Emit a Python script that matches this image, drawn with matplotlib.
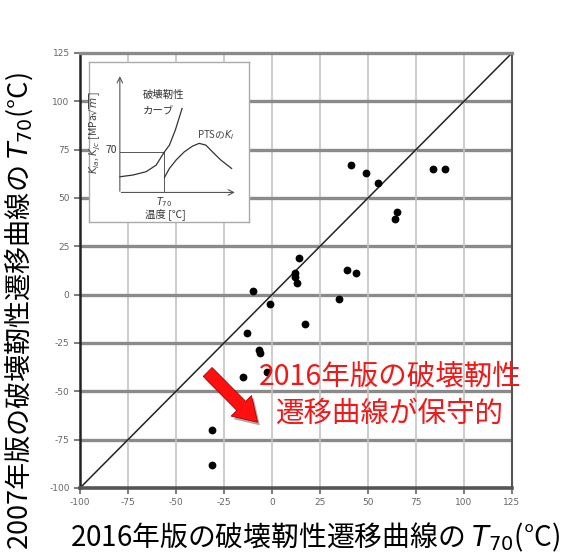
import matplotlib
matplotlib.use("Agg")
import matplotlib.pyplot as plt
from matplotlib.patches import FancyArrow

plt.rcParams['font.family'] = ['Noto Sans CJK JP', 'DejaVu Sans']
plt.rcParams['mathtext.fontset'] = 'dejavusans'

# T70 (°C): 2016 edition on x, 2007 edition on y
t70_2016 = [41, 49, 55, 84, 90, 65, 64, 14, 12, 12, 13, 39, 44, 35,
            -10, -1, 17, -13, -7, -6.5, -2.5, -15, -31, -31]
t70_2007 = [67, 63, 58, 65, 65, 43, 39, 19, 11, 9, 6, 13, 11, -2,
            2, -5, -15, -20, -28.5, -30, -40, -42.5, -70, -88]

ticks = [-100, -75, -50, -25, 0, 25, 50, 75, 100, 125]
lims = [-100, 125]

# schematic curves for the small explanatory inset
curve_T = [19.3, 27.5, 35.8, 42.0, 47.2, 50.3, 54.0, 58.2]
curve_K = [28.3, 29.4, 31.5, 35.6, 43.9, 48.1, 57.5, 71.0]
pts_T = [47.2, 50.3, 54.5, 59.6, 64.8, 68.9, 73.1, 77.2, 82.4, 89.2]
pts_K = [27.9, 33.5, 38.8, 43.9, 47.5, 49.2, 48.1, 43.9, 38.8, 33.5]
t70_pos = 47.2
k70_pos = 43.9

fig = plt.figure(figsize=(5.69, 5.57), dpi=100)
ax = fig.add_axes([0.1406, 0.1239, 0.7592, 0.781])

ax.set_xlim(lims)
ax.set_ylim(lims)
ax.set_xticks(ticks)
ax.set_yticks(ticks)
ax.set_xticklabels([str(t) for t in ticks], fontsize=6.5, color='#666666', family='DejaVu Sans')
ax.set_yticklabels([str(t) for t in ticks], fontsize=6.5, color='#666666', family='DejaVu Sans')
ax.tick_params(axis='both', length=4, width=1.2, color='#666666', pad=3.5)

for t in ticks[1:-1]:
    ax.axhline(t, color='#8a8a8a', lw=2.4, zorder=1)
    ax.axvline(t, color='#c4c4c4', lw=1.2, zorder=1)

ax.spines['left'].set_color('#222222')
ax.spines['left'].set_linewidth(1.8)
ax.spines['bottom'].set_color('#555555')
ax.spines['bottom'].set_linewidth(2.6)
ax.spines['top'].set_color('#8a8a8a')
ax.spines['top'].set_linewidth(2.4)
ax.spines['right'].set_color('#555555')
ax.spines['right'].set_linewidth(1.5)

ax.plot(lims, lims, color='#222222', lw=1.1, zorder=2)
ax.plot(t70_2016, t70_2007, 'o', color='black', ms=4.6, zorder=3)

# red arrow with a soft shadow
ax.add_patch(FancyArrow(-32.3, -41.6, 26, -26, width=6.5, head_width=15, head_length=12,
                        length_includes_head=True, fc='#555555', ec='none', alpha=0.5, zorder=4))
ax.add_patch(FancyArrow(-33.5, -40, 26, -26, width=6.5, head_width=15, head_length=12,
                        length_includes_head=True, fc='#ff1010', ec='#b00000', lw=0.6, zorder=5))

ax.text(61.5, -52, '2016年版の破壊靭性\n遷移曲線が保守的', color='#f01818', fontsize=20.5,
        ha='center', va='center', linespacing=1.33, zorder=6)

fig.text(0.553, 0.006, '2016年版の破壊靭性遷移曲線の $T_{70}$(°C)', fontsize=20,
         ha='center', va='bottom')
fig.text(0.005, 0.012, '2007年版の破壊靭性遷移曲線の $T_{70}$(°C)', fontsize=19.5,
         rotation=90, ha='left', va='bottom')

# inset: toughness curve vs PTS K_I
ins = fig.add_axes([0.1564, 0.6014, 0.281, 0.287])
ins.set_xlim(0, 100)
ins.set_ylim(0, 100)
ins.set_xticks([])
ins.set_yticks([])
for s in ins.spines.values():
    s.set_color('#aaaaaa')
    s.set_linewidth(1.0)

ins.annotate('', xy=(19.3, 93), xytext=(19.3, 17.5),
             arrowprops=dict(arrowstyle='->', color='#555555', lw=0.8))
ins.annotate('', xy=(93, 18.5), xytext=(18.5, 18.5),
             arrowprops=dict(arrowstyle='->', color='#555555', lw=0.8))
ins.plot([19.3, t70_pos], [k70_pos, k70_pos], color='#555555', lw=0.7)
ins.plot([t70_pos, t70_pos], [18.5, k70_pos], color='#555555', lw=0.7)
ins.plot(curve_T, curve_K, color='#333333', lw=0.9)
ins.plot(pts_T, pts_K, color='#333333', lw=0.9)

ins.text(33.7, 79.4, '破壊靭性', fontsize=7.5, color='#333333', va='center')
ins.text(33.7, 69, 'カーブ', fontsize=7.5, color='#333333', va='center')
ins.text(67.5, 54.4, 'PTSの$K_I$', fontsize=7, color='#444444', va='center')
ins.text(17.5, 45, '70', fontsize=7.5, color='#333333', ha='right', va='center')
ins.text(t70_pos, 12.5, '$T_{70}$', fontsize=7, color='#333333', ha='center', va='center')
ins.text(48, 4.8, '温度 [℃]', fontsize=7.5, color='#333333', ha='center', va='center')
ins.text(4.0, 56, '$K_{Ia}$, $K_{Jc}$ [MPa$\\sqrt{m}$]', fontsize=7.5, color='#444444',
         rotation=90, ha='center', va='center')

fig.savefig('out.png', dpi=100)
